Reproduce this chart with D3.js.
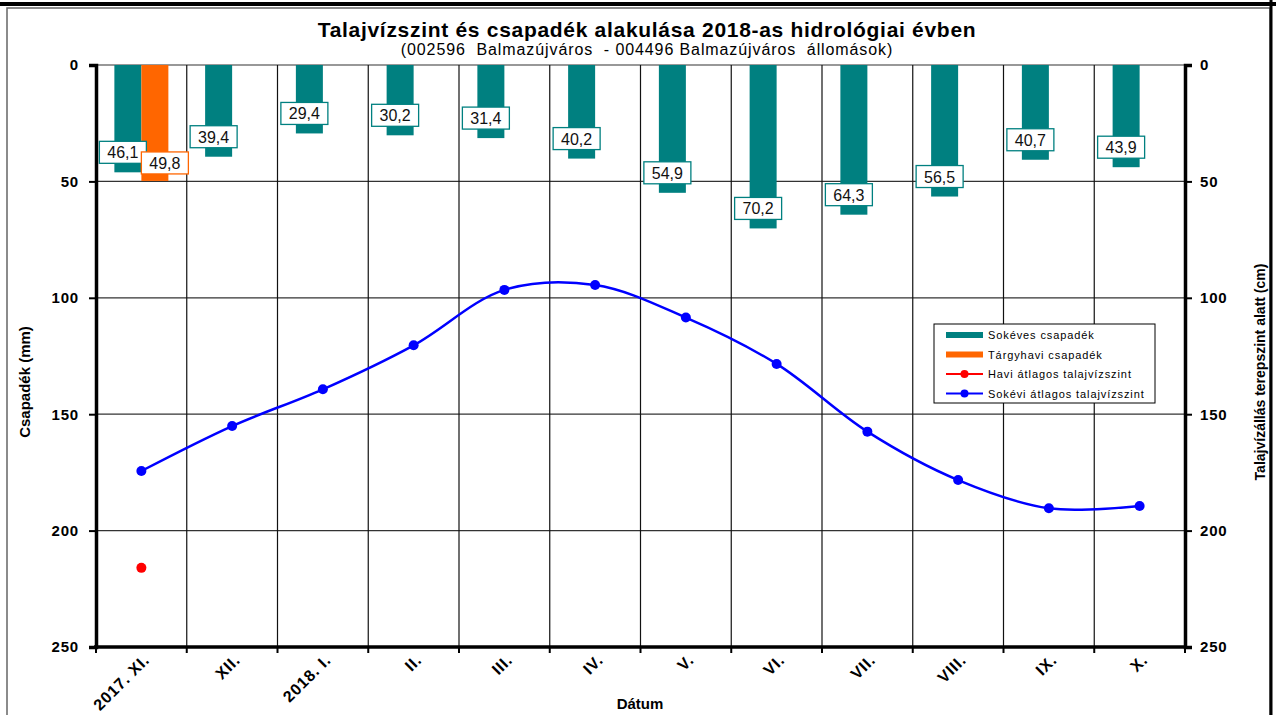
<!DOCTYPE html>
<html>
<head>
<meta charset="utf-8">
<script src="https://cdn.jsdelivr.net/npm/d3@7"></script>
<style>
  body { margin: 0; background: #fff; }
  svg { font-family: "Liberation Sans", Arial, sans-serif; }
</style>
</head>
<body>
<div id="chart"></div>
<script>
const [width, height] = [1276, 715];
const margin = {top: 65, right: 91, bottom: 68, left: 96};

// data
const months = ["2017. XI.", "XII.", "2018. I.", "II.", "III.", "IV.", "V.", "VI.", "VII.", "VIII.", "IX.", "X."];
const sokevesCsapadek = [46.1, 39.4, 29.4, 30.2, 31.4, 40.2, 54.9, 70.2, 64.3, 56.5, 40.7, 43.9];
const targyhaviCsapadek = [49.8, null, null, null, null, null, null, null, null, null, null, null];
const haviTalajviz = [216, null, null, null, null, null, null, null, null, null, null, null];
const sokeviTalajviz = [174.4, 155.1, 139.3, 120.4, 96.6, 94.5, 108.5, 128.4, 157.5, 178.3, 190.4, 189.4];
const yTicks = [0, 50, 100, 150, 200, 250];

const svg = d3.select("#chart")
    .append("svg")
    .attr("width", width)
    .attr("height", height);

// outer frame
svg.append("rect")
    .attr("x", 7).attr("y", 8)
    .attr("width", 1263).attr("height", 730)
    .attr("fill", "none").attr("stroke", "#666").attr("stroke-width", 1.5);
svg.append("line").attr("x1", 0).attr("x2", width).attr("y1", 4).attr("y2", 4)
    .attr("stroke", "#000").attr("stroke-width", 4);
svg.append("line").attr("x1", 1271).attr("x2", 1271).attr("y1", 0).attr("y2", height)
    .attr("stroke", "#000").attr("stroke-width", 3);

const x = d3.scaleBand()
    .domain(d3.range(months.length))
    .range([margin.left, margin.left + 1089])
    .padding(0);

const y = d3.scaleLinear()
    .domain([0, 250])
    .range([margin.top, 647]);

const barW = 27;
const xl = x.range()[0], xr = x.range()[1];

// gridlines
svg.append("g")
    .selectAll("line")
    .data(yTicks)
    .enter()
    .append("line")
    .attr("x1", xl).attr("x2", xr)
    .attr("y1", d => y(d)).attr("y2", d => y(d))
    .attr("stroke", "#333").attr("stroke-width", 1.2);

svg.append("g")
    .selectAll("line")
    .data(d3.range(1, months.length))
    .enter()
    .append("line")
    .attr("x1", d => x(d)).attr("x2", d => x(d))
    .attr("y1", y(0)).attr("y2", y(250))
    .attr("stroke", "#111").attr("stroke-width", 1.2);

// bars
svg.append("g")
    .selectAll("rect")
    .data(sokevesCsapadek)
    .enter()
    .append("rect")
    .attr("x", (d, i) => x(i) + x.bandwidth() / 2 - barW)
    .attr("y", y(0))
    .attr("width", barW)
    .attr("height", d => y(d) - y(0))
    .attr("fill", "#008080");

svg.append("g")
    .selectAll("rect")
    .data(targyhaviCsapadek.map((d, i) => ({d, i})).filter(o => o.d != null))
    .enter()
    .append("rect")
    .attr("x", o => x(o.i) + x.bandwidth() / 2)
    .attr("y", y(0))
    .attr("width", barW)
    .attr("height", o => y(o.d) - y(0))
    .attr("fill", "#FF6600");

// smooth line
const pts = sokeviTalajviz.map((d, i) => [x(i) + x.bandwidth() / 2, y(d)]);
svg.append("path")
    .attr("d", d3.line().curve(d3.curveCatmullRom.alpha(0.5))(pts))
    .attr("fill", "none")
    .attr("stroke", "#0000FF")
    .attr("stroke-width", 2.5);

svg.append("g")
    .selectAll("circle")
    .data(pts)
    .enter()
    .append("circle")
    .attr("cx", d => d[0]).attr("cy", d => d[1])
    .attr("r", 5)
    .attr("fill", "#0000FF");

svg.append("g")
    .selectAll("circle")
    .data(haviTalajviz.map((d, i) => ({d, i})).filter(o => o.d != null))
    .enter()
    .append("circle")
    .attr("cx", o => x(o.i) + x.bandwidth() / 2)
    .attr("cy", o => y(o.d))
    .attr("r", 5)
    .attr("fill", "#FF0000");

// data labels
const fmt = v => v.toFixed(1).replace(".", ",");
function addLabel(cx, cy, v, col) {
    const g = svg.append("g");
    g.append("rect")
        .attr("x", cx - 23.5).attr("y", cy - 11)
        .attr("width", 47).attr("height", 22)
        .attr("fill", "#fff").attr("stroke", col).attr("stroke-width", 1.3);
    g.append("text")
        .attr("x", cx).attr("y", cy + 6)
        .attr("text-anchor", "middle")
        .attr("font-size", 16)
        .attr("fill", "#111")
        .text(fmt(v));
}
sokevesCsapadek.forEach((d, i) => {
    addLabel(x(i) + x.bandwidth() / 2 - barW / 2 - 5, y(d) - 20, d, "#008080");
});
targyhaviCsapadek.forEach((d, i) => {
    if (d != null) addLabel(x(i) + x.bandwidth() / 2 + barW / 2 + 10, y(d) - 18, d, "#FF6600");
});

// axes
const leftAxis = svg.append("g")
    .attr("transform", `translate(${xl},0)`)
    .call(d3.axisLeft(y).tickValues(yTicks).tickSize(7).tickPadding(10));
const rightAxis = svg.append("g")
    .attr("transform", `translate(${xr},0)`)
    .call(d3.axisRight(y).tickValues(yTicks).tickSize(7).tickPadding(8));
[leftAxis, rightAxis].forEach(a => {
    a.select(".domain").attr("stroke-width", 3.5).attr("stroke", "#000");
    a.selectAll(".tick line").attr("stroke-width", 2).attr("stroke", "#000");
    a.selectAll("text").attr("font-size", 15).attr("font-weight", "bold")
        .attr("letter-spacing", 0.8)
        .attr("font-family", "Liberation Sans, Arial, sans-serif").attr("fill", "#000");
});

svg.append("line")
    .attr("x1", xl - 2).attr("x2", xr + 2)
    .attr("y1", y(250)).attr("y2", y(250))
    .attr("stroke", "#000").attr("stroke-width", 3.5);
svg.append("g")
    .selectAll("line")
    .data(d3.range(0, months.length + 1))
    .enter()
    .append("line")
    .attr("x1", d => xl + d * x.bandwidth()).attr("x2", d => xl + d * x.bandwidth())
    .attr("y1", y(250)).attr("y2", y(250) + 6)
    .attr("stroke", "#000").attr("stroke-width", 2);

svg.append("g")
    .selectAll("text")
    .data(months)
    .enter()
    .append("text")
    .attr("transform", (d, i) => `translate(${x(i) + x.bandwidth() / 2 + 9},${y(250) + 14}) rotate(-45)`)
    .attr("text-anchor", "end")
    .attr("font-size", 16)
    .attr("font-weight", "bold")
    .attr("letter-spacing", 0.8)
    .text(d => d);

// titles
svg.append("text")
    .attr("x", 647).attr("y", 37)
    .attr("text-anchor", "middle")
    .attr("font-size", 21).attr("font-weight", "bold")
    .attr("letter-spacing", 0.7)
    .text("Talajvízszint és csapadék alakulása 2018-as hidrológiai évben");
svg.append("text")
    .attr("x", 647).attr("y", 55)
    .attr("text-anchor", "middle")
    .attr("font-size", 16)
    .attr("letter-spacing", 0.9)
    .attr("xml:space", "preserve")
    .text("(002596  Balmazújváros  - 004496 Balmazújváros  állomások)");

svg.append("text")
    .attr("x", 640).attr("y", 709)
    .attr("text-anchor", "middle")
    .attr("font-size", 15).attr("font-weight", "bold")
    .text("Dátum");

svg.append("text")
    .attr("transform", "translate(30,382) rotate(-90)")
    .attr("text-anchor", "middle")
    .attr("font-size", 15).attr("font-weight", "bold")
    .text("Csapadék (mm)");

svg.append("text")
    .attr("transform", "translate(1265,372) rotate(-90)")
    .attr("text-anchor", "middle")
    .attr("font-size", 14).attr("font-weight", "bold")
    .text("Talajvízállás terepszint alatt (cm)");

// legend
const legendItems = [
    {name: "Sokéves csapadék", color: "#008080", type: "bar"},
    {name: "Tárgyhavi csapadék", color: "#FF6600", type: "bar"},
    {name: "Havi átlagos talajvízszint", color: "#FF0000", type: "line"},
    {name: "Sokévi átlagos talajvízszint", color: "#0000FF", type: "line"}
];
const legend = svg.append("g").attr("transform", "translate(934,324)");
legend.append("rect")
    .attr("width", 221).attr("height", 79)
    .attr("fill", "#fff").attr("stroke", "#000").attr("stroke-width", 1);
const li = legend.selectAll(".li")
    .data(legendItems)
    .enter()
    .append("g")
    .attr("transform", (d, i) => `translate(0,${11 + i * 19.5})`);
li.filter(d => d.type === "bar").append("rect")
    .attr("x", 12).attr("y", -3).attr("width", 37).attr("height", 6)
    .attr("fill", d => d.color);
li.filter(d => d.type === "line").append("line")
    .attr("x1", 12).attr("x2", 49).attr("y1", 0).attr("y2", 0)
    .attr("stroke", d => d.color).attr("stroke-width", 2);
li.filter(d => d.type === "line").append("circle")
    .attr("cx", 30.5).attr("cy", 0).attr("r", 4)
    .attr("fill", d => d.color);
li.append("text")
    .attr("x", 54).attr("y", 4)
    .attr("font-size", 11)
    .attr("letter-spacing", 0.9)
    .text(d => d.name);
</script>
</body>
</html>
